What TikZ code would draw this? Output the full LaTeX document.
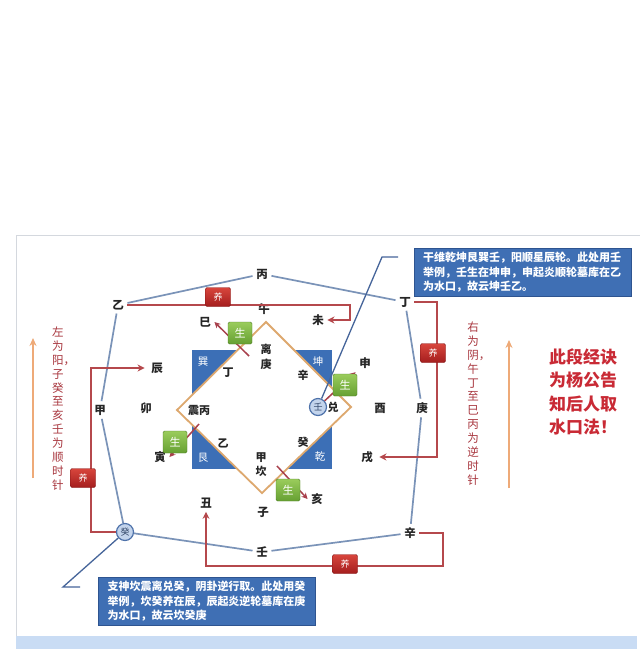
\documentclass[tikz,border=0pt]{standalone}
\usepackage{fontspec}
\setmainfont{Noto Sans CJK SC}
\usetikzlibrary{arrows.meta}
\definecolor{octc}{HTML}{7A93B8}
\definecolor{redc}{HTML}{B5484C}
\definecolor{sqblue}{HTML}{3C6FB6}
\definecolor{diac}{HTML}{DDA86E}
\definecolor{boxblue}{HTML}{3F6FB4}
\definecolor{boxedge}{HTML}{2E5490}
\definecolor{callc}{HTML}{46659A}
\definecolor{vtextc}{HTML}{A8363E}
\definecolor{bigred}{HTML}{C92A35}
\definecolor{orc}{HTML}{EEAA78}
\definecolor{framec}{HTML}{D4D8DE}
\definecolor{bandc}{HTML}{C9DCF4}
\definecolor{yangtop}{HTML}{D8453C}
\definecolor{yangbot}{HTML}{A41E1E}
\definecolor{shtop}{HTML}{9ACC5C}
\definecolor{shbot}{HTML}{66A032}
\definecolor{circfill}{HTML}{C3D4EC}
\definecolor{circedge}{HTML}{4E72AA}
\definecolor{garrc}{HTML}{A8404C}
\begin{document}
\begin{tikzpicture}[x=1pt,y=-1pt,
  lbl/.style={font=\bfseries\fontsize{11.5}{13}\selectfont, text=black!85, inner sep=3.5pt},
  ilbl/.style={font=\bfseries\fontsize{11}{14.5}\selectfont, text=black!85, inner sep=1pt, align=center},
  wlbl/.style={font=\fontsize{10.5}{12}\selectfont, text=white, inner sep=1pt},
  oct/.style={draw=octc, line width=1.7pt},
  redln/.style={draw=redc, line width=1.7pt},
  redarr/.style={redln, -{Stealth[length=7pt,width=7pt]}},
  garr/.style={draw=garrc, line width=1.5pt, -{Stealth[length=6pt,width=6pt]}},
  yangbox/.style={minimum width=25pt, minimum height=19pt, inner sep=0pt, rounded corners=1.5pt, top color=yangtop, bottom color=yangbot, draw=yangbot!80!black, line width=0.4pt, text=white, font=\fontsize{9}{10}\selectfont},
  shengbox/.style={minimum width=24pt, minimum height=22pt, inner sep=0pt, rounded corners=1.5pt, top color=shtop, bottom color=shbot, draw=shbot!80!black, line width=0.4pt, text=white, font=\fontsize{11}{12}\selectfont},
  circ/.style={circle, minimum size=17pt, inner sep=0pt, fill=circfill, draw=circedge, line width=1.2pt, font=\fontsize{9}{10}\selectfont, text=circedge!60!black},
  callout/.style={draw=callc, line width=1.3pt},
  tbox/.style={fill=boxblue, draw=boxedge, line width=0.8pt, text=white, align=left, text width=199pt, inner xsep=9pt, inner ysep=4pt, font=\bfseries\fontsize{11}{14.5}\selectfont},
  vtext/.style={text=vtextc, align=center, inner sep=0pt, font=\fontsize{11.5}{13.9}\selectfont},
  orarr/.style={draw=orc, line width=1.6pt, -{Stealth[length=8pt,width=7pt]}}
]
\useasboundingbox (0,0) rectangle (640,649);
\fill[white] (0,0) rectangle (640,649);
% frame and band
\draw[framec, line width=1pt] (16,649) -- (16,235) -- (640,235);
\fill[bandc] (16,636) rectangle (637,649);

% central square and diamond
\fill[sqblue] (192,350) rectangle (332,469);
\filldraw[fill=white, draw=diac, line width=1.8pt] (266,322) -- (351,407) -- (262,493) -- (177,410) -- cycle;

% corner trigram labels
\node[wlbl] (xun) at (203,362) {巽};
\node[wlbl] (kun) at (318,362) {坤};
\node[wlbl] (gen) at (203,458) {艮};
\node[wlbl] (qian) at (320,457) {乾};

% inner labels
\node[ilbl] (ligeng) at (266,357) {离\\庚};
\node[ilbl] (iding) at (228,373) {丁};
\node[ilbl] (ixin) at (303,375) {辛};
\node[ilbl] (zhenbing) at (199,410) {震丙};
\node[ilbl] (dui) at (333,407) {兑};
\node[ilbl] (iyi) at (223,443) {乙};
\node[ilbl] (igui) at (303,442) {癸};
\node[ilbl] (jiakan) at (261,464.5) {甲\\坎};
\node[circ] (renc) at (318,407) {壬};

% outer ring labels
\node[lbl] (bing) at (262,274) {丙};
\node[lbl] (yi) at (118,305) {乙};
\node[lbl] (wu) at (264,309) {午};
\node[lbl] (si) at (205,322) {巳};
\node[lbl] (wei) at (318,320) {未};
\node[lbl] (ding) at (405,302) {丁};
\node[lbl] (chen) at (157,368) {辰};
\node[lbl] (shen) at (365,363) {申};
\node[lbl] (jia) at (100,410) {甲};
\node[lbl] (mao) at (146,408) {卯};
\node[lbl] (you) at (380,408) {酉};
\node[lbl] (geng) at (422,408) {庚};
\node[lbl] (yin) at (160,457) {寅};
\node[lbl] (xu) at (367,457) {戌};
\node[lbl] (chou) at (206,503) {丑};
\node[lbl] (hai) at (317,499) {亥};
\node[lbl] (zi) at (263,512) {子};
\node[lbl] (ren) at (262,552) {壬};
\node[lbl] (xin) at (410,533) {辛};
\node[circ] (gui) at (125,532) {癸};

% outer octagon lines
\draw[oct] (yi) -- (bing);
\draw[oct] (bing) -- (ding);
\draw[oct] (yi) -- (jia);
\draw[oct] (ding) -- (geng);
\draw[oct] (jia) -- (gui);
\draw[oct] (gui) -- (ren);
\draw[oct] (ren) -- (xin);
\draw[oct] (geng) -- (xin);

% red connectors
\coordinate (t1) at (350,305);
\draw[redarr] (yi.east) -- (t1) |- (wei.east);
\coordinate (r1) at (437,302);
\coordinate (r2) at (437,457);
\draw[redarr, shorten >=3pt] (ding.east) -- (r1) -- (r2) -- (xu.east);
\coordinate (b1) at (443,533);
\coordinate (b2) at (443,566);
\coordinate (b3) at (206,566);
\draw[redarr] (xin.east) -- (b1) -- (b2) -- (b3) -- (chou.south);
\coordinate (l1) at (91,532);
\coordinate (l2) at (91,368);
\draw[redarr, shorten >=3pt] (gui.west) -- (l1) -- (l2) -- (chen.west);

\node[yangbox] (yang1) at (218,297) {养};
\node[yangbox] (yang2) at (433,353) {养};
\node[yangbox] (yang3) at (345,564) {养};
\node[yangbox] (yang4) at (83,478) {养};

% sheng arrows
\coordinate (g1) at (249,356);
\draw[garr] (g1) -- (si.east);
\draw[garr] (renc) -- (shen.south west);
\coordinate (g3) at (199,424);
\draw[garr] (g3) -- (yin.east);
\coordinate (g4) at (277,466);
\draw[garr] (g4) -- (hai.west);

\node[shengbox] (sh1) at (240,333) {生};
\node[shengbox] (sh2) at (345,385) {生};
\node[shengbox] (sh3) at (175,442) {生};
\node[shengbox] (sh4) at (288,490) {生};

% callout boxes
\node[tbox] (box1) at (522.5,272.5) {干维乾坤艮巽壬，阳顺星辰轮。此处用壬\\举例，壬生在坤申，申起炎顺轮墓库在乙\\为水口，故云坤壬乙。};
\node[tbox] (box2) at (207,601.5) {支神坎震离兑癸，阴卦逆行取。此处用癸\\举例，坎癸养在辰，辰起炎逆轮墓库在庚\\为水口，故云坎癸庚};
\coordinate (c1) at (398,257);
\coordinate (c2) at (382,257);
\draw[callout] (c1) -- (c2) -- (renc);
\coordinate (c3) at (80,587);
\coordinate (c4) at (63,587);
\draw[callout] (c3) -- (c4) -- (gui);

% vertical texts
\node[vtext] (ltext) at (58,408.5) {左\\为\\阳\rlap{，}\\子\\癸\\至\\亥\\壬\\为\\顺\\时\\针};
\node[vtext] (rtext) at (473,403.5) {右\\为\\阴\rlap{，}\\午\\丁\\至\\巳\\丙\\为\\逆\\时\\针};

% orange arrows
\coordinate (o1) at (33,478);
\coordinate (o2) at (33,338);
\draw[orarr] (o1) -- (o2);
\coordinate (o3) at (509,488);
\coordinate (o4) at (509,340);
\draw[orarr] (o3) -- (o4);

% big red text
\node[text=bigred, align=center, font=\bfseries\fontsize{17}{23.3}\selectfont, inner sep=0pt] (big) at (583,392) {此段经诀\\为杨公告\\知后人取\\水口法！};
\end{tikzpicture}
\end{document}
